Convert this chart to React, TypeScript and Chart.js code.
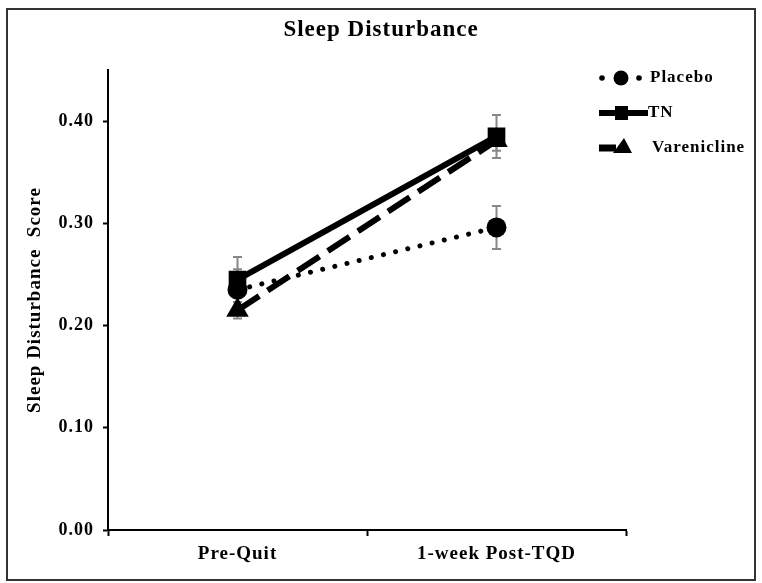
import React, { useEffect, useRef } from 'react';
import { Chart, registerables } from 'chart.js';

Chart.register(...registerables);

const categories = ['Pre-Quit', '1-week Post-TQD'];
const seriesNames = ['Placebo', 'TN', 'Varenicline'];
const placebo = [0.235, 0.296];
const placeboErr = [0.02, 0.021];
const tn = [0.245, 0.385];
const tnErr = [0.022, 0.021];
const varenicline = [0.215, 0.381];
const vareniclineErr = [0.008, 0.01];
const yTicks = [0, 0.1, 0.2, 0.3, 0.4];
const chartTitle = 'Sleep Disturbance';
const yTitle = 'Sleep Disturbance  Score';

const errors = [placeboErr, tnErr, vareniclineErr];
const FONT = "'Liberation Serif', 'Times New Roman', serif";

const framePlugin = {
  id: 'frame',
  beforeDraw(chart: any) {
    const ctx = chart.ctx;
    (ctx as any).letterSpacing = '1px';
    ctx.save();
    ctx.fillStyle = '#fff';
    ctx.fillRect(0, 0, chart.width, chart.height);
    ctx.strokeStyle = '#333';
    ctx.lineWidth = 2;
    ctx.strokeRect(7, 9, 748, 571);
    ctx.fillStyle = '#000';
    ctx.font = `bold 23px ${FONT}`;
    ctx.textAlign = 'center';
    ctx.textBaseline = 'alphabetic';
    ctx.fillText(chartTitle, 381, 36);
    ctx.restore();
  },
};

const errorBarPlugin = {
  id: 'errorBars',
  beforeDatasetsDraw(chart: any) {
    const ctx = chart.ctx;
    const y = chart.scales.y;
    ctx.save();
    ctx.strokeStyle = '#888';
    ctx.lineWidth = 2;
    chart.data.datasets.forEach((ds: any, i: number) => {
      const meta = chart.getDatasetMeta(i);
      meta.data.forEach((pt: any, j: number) => {
        const v = ds.data[j];
        const e = errors[i][j];
        const top = y.getPixelForValue(v + e);
        const bot = y.getPixelForValue(v - e);
        ctx.beginPath();
        ctx.moveTo(pt.x, top);
        ctx.lineTo(pt.x, bot);
        ctx.moveTo(pt.x - 4.5, top);
        ctx.lineTo(pt.x + 4.5, top);
        ctx.moveTo(pt.x - 4.5, bot);
        ctx.lineTo(pt.x + 4.5, bot);
        ctx.stroke();
      });
    });
    ctx.restore();
  },
};

const legendPlugin = {
  id: 'customLegend',
  afterDraw(chart: any) {
    const ctx = chart.ctx;
    ctx.save();
    (ctx as any).letterSpacing = '1px';
    ctx.fillStyle = '#000';
    ctx.strokeStyle = '#000';
    ctx.font = `bold 17px ${FONT}`;
    ctx.textAlign = 'left';
    ctx.textBaseline = 'middle';
    const rows = [78, 113, 148];
    // Placebo
    let yy = rows[0];
    [602, 639].forEach((x) => {
      ctx.beginPath();
      ctx.arc(x, yy, 2.8, 0, Math.PI * 2);
      ctx.fill();
    });
    ctx.beginPath();
    ctx.arc(621, yy, 7.5, 0, Math.PI * 2);
    ctx.fill();
    ctx.fillText(seriesNames[0], 650, yy);
    // TN
    yy = rows[1];
    ctx.lineWidth = 6;
    ctx.beginPath();
    ctx.moveTo(599, yy);
    ctx.lineTo(648, yy);
    ctx.stroke();
    ctx.fillRect(615, yy - 7, 13, 14);
    ctx.fillText(seriesNames[1], 648, yy);
    // Varenicline
    yy = rows[2];
    ctx.lineWidth = 7;
    ctx.beginPath();
    ctx.moveTo(599, yy);
    ctx.lineTo(616, yy);
    ctx.stroke();
    ctx.beginPath();
    ctx.moveTo(624, yy - 10);
    ctx.lineTo(632, yy + 5);
    ctx.lineTo(613, yy + 5);
    ctx.closePath();
    ctx.fill();
    ctx.fillText(seriesNames[2], 652, yy);
    ctx.restore();
  },
};

export default function App() {
  const ref = useRef<HTMLCanvasElement>(null);
  useEffect(() => {
    const canvas = ref.current;
    if (!canvas) return;
    const chart = new Chart(canvas, {
      type: 'line',
      data: {
        labels: categories,
        datasets: [
          {
            label: seriesNames[0],
            data: placebo,
            borderColor: '#000',
            backgroundColor: '#000',
            borderWidth: 5,
            borderDash: [0.01, 12.5],
            borderCapStyle: 'round',
            pointStyle: 'circle',
            pointRadius: 10,
            pointBorderWidth: 0,
            order: 3,
          },
          {
            label: seriesNames[1],
            data: tn,
            borderColor: '#000',
            backgroundColor: '#000',
            borderWidth: 6,
            pointStyle: 'rect',
            pointRadius: 12.5,
            pointBorderWidth: 0,
            order: 1,
          },
          {
            label: seriesNames[2],
            data: varenicline,
            borderColor: '#000',
            backgroundColor: '#000',
            borderWidth: 6,
            borderDash: [26, 10],
            pointStyle: 'triangle',
            pointRadius: 13,
            pointBorderWidth: 0,
            order: 2,
          },
        ],
      },
      options: {
        animation: false,
        responsive: true,
        maintainAspectRatio: false,
        layout: { padding: { left: 24, right: 136, top: 70, bottom: 0 } },
        plugins: {
          legend: { display: false },
          title: { display: false },
          tooltip: { enabled: false },
        },
        scales: {
          x: {
            type: 'category',
            offset: true,
            grid: {
              offset: true,
              drawOnChartArea: false,
              tickLength: 6,
              tickColor: '#000',
              tickWidth: 2,
            },
            border: { display: true, color: '#000', width: 2 },
            ticks: {
              color: '#000',
              padding: 7,
              maxRotation: 0,
              font: { family: FONT, size: 19, weight: 'bold' },
            },
            afterFit(scale: any) {
              scale.height = 53;
            },
          },
          y: {
            min: 0,
            max: 0.45,
            afterBuildTicks(scale: any) {
              scale.ticks = yTicks.map((v) => ({ value: v }));
            },
            grid: {
              drawOnChartArea: false,
              tickLength: 5,
              tickColor: '#000',
              tickWidth: 2,
            },
            border: { display: true, color: '#000', width: 2 },
            ticks: {
              color: '#000',
              padding: 9,
              font: { family: FONT, size: 18, weight: 'bold' },
              callback: (v: any) => Number(v).toFixed(2),
            },
            title: {
              display: true,
              text: yTitle,
              color: '#000',
              font: { family: FONT, size: 19, weight: 'bold' },
              padding: { top: 0, bottom: 0 },
            },
            afterFit(scale: any) {
              scale.width = 84;
            },
          },
        },
      },
      plugins: [framePlugin, errorBarPlugin, legendPlugin],
    } as any);
    return () => chart.destroy();
  }, []);
  return (
    <div style={{ position: 'fixed', left: 0, top: 0, width: 762, height: 583, background: '#fff' }}>
      <canvas ref={ref} />
    </div>
  );
}
